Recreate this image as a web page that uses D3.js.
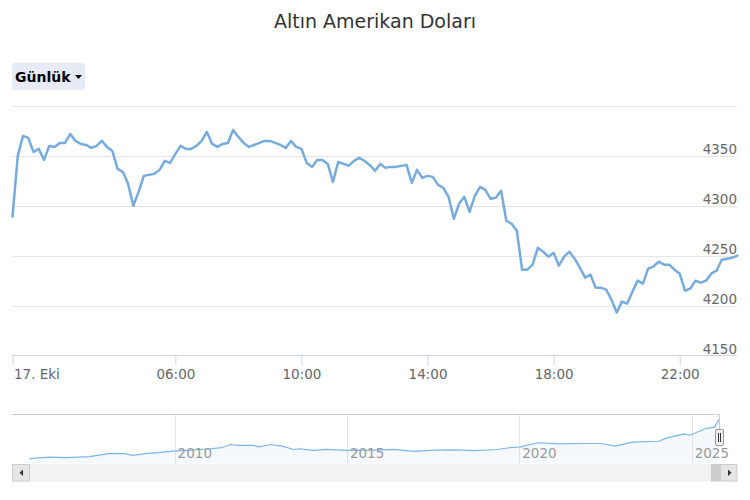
<!DOCTYPE html>
<html>
<head>
<meta charset="utf-8">
<script src="https://cdn.jsdelivr.net/npm/d3@7"></script>
<style>
  html, body { margin: 0; padding: 0; background: #fff; }
  svg { display: block; font-family: "DejaVu Sans", Verdana, sans-serif; }
</style>
</head>
<body>
<svg id="chart" width="750" height="500"></svg>
<script>
// ---------- DATA ----------
const chartTitle = "Altın Amerikan Doları";
const rangeButtonLabel = "Günlük";

// intraday series, 17 Oct 2025, one point every 10 minutes from 00:50
const seriesStart = [2025, 9, 17, 0, 50];
const stepMinutes = 10;
const prices = [
  4289, 4350, 4370, 4368, 4354, 4357, 4346, 4360, 4359, 4363,
  4363, 4372, 4365, 4362, 4361, 4358, 4360, 4365, 4359, 4355,
  4337, 4334, 4322, 4300, 4314, 4330, 4331, 4332, 4336, 4345,
  4343, 4352, 4360, 4357, 4357, 4360, 4365, 4374, 4362, 4359,
  4362, 4363, 4376, 4369, 4363, 4359, 4361, 4363, 4365, 4365,
  4363, 4361, 4358, 4365, 4359, 4357, 4343, 4339, 4346, 4346,
  4342, 4324, 4344, 4342, 4340, 4345, 4348, 4345, 4341, 4335,
  4342, 4338, 4339, 4339, 4340, 4341, 4323, 4336, 4328, 4330,
  4329, 4321, 4318, 4309, 4287, 4302, 4309, 4294, 4310, 4319,
  4316, 4307, 4308, 4315, 4285, 4282, 4275, 4236, 4236, 4241,
  4258, 4254, 4249, 4253, 4240, 4249, 4254, 4247, 4238, 4228,
  4231, 4218, 4218, 4216, 4206, 4193, 4204, 4202, 4214, 4225,
  4222, 4237, 4239, 4244, 4241, 4241, 4236, 4232, 4215, 4217,
  4225, 4223, 4225, 4232, 4235, 4246, 4247, 4248, 4250
];

const yTicks = [4150, 4200, 4250, 4300, 4350, 4400];
const yTickLabels = ["4150", "4200", "4250", "4300", "4350", ""];
const xTickTimes = ["00:50", "06:00", "10:00", "14:00", "18:00", "22:00"];
const xTickLabels = ["17. Eki", "06:00", "10:00", "14:00", "18:00", "22:00"];

// navigator (long-term history)
const navDates = [
  "2005-10-15", "2006-05-15", "2006-11-15", "2007-07-15", "2008-02-15", "2008-07-15",
  "2008-10-15", "2009-03-15", "2009-07-15", "2009-12-15", "2010-05-15", "2011-01-15",
  "2011-05-15", "2011-08-15", "2011-11-15", "2012-04-15", "2012-06-15", "2012-10-15",
  "2013-02-15", "2013-06-15", "2013-08-15", "2014-01-15", "2014-05-15", "2014-12-15",
  "2015-10-15", "2016-05-15", "2016-12-15", "2017-07-15", "2018-02-15", "2018-09-15",
  "2019-05-15", "2019-09-15", "2020-01-15", "2020-07-15", "2021-03-15", "2021-10-15",
  "2022-05-15", "2022-10-15", "2023-04-15", "2024-01-15", "2024-04-15", "2024-10-15",
  "2024-12-15", "2025-05-15", "2025-09-01", "2025-10-05", "2025-10-17"
];
const navPrices = [
  470, 620, 570, 660, 980, 950,
  790, 980, 1050, 1200, 1270, 1430,
  1530, 1840, 1750, 1750, 1620, 1840,
  1680, 1360, 1430, 1270, 1360, 1270,
  1300, 1360, 1170, 1300, 1330, 1240,
  1360, 1530, 1620, 2010, 1910, 1940,
  1940, 1680, 2070, 2160, 2490, 2870,
  2740, 3350, 3550, 4080, 4300
];
const navYearTicks = ["2010", "2015", "2020", "2025"];

// ---------- CHART ----------
const svg = d3.select("#chart");
const parseHM = s => { const [h, m] = s.split(":").map(Number); return new Date(2025, 9, 17, h, m); };
const t0 = new Date(...seriesStart);
const data = prices.map((v, i) => ({ t: new Date(t0.getTime() + i * stepMinutes * 60000), v }));

const plotLeft = 12.5, plotRight = 737.5;
const x = d3.scaleTime().domain([data[0].t, data[data.length - 1].t]).range([plotLeft, plotRight]);
const y = d3.scaleLinear().domain([4150, 4400]).range([355.5, 106]);

// title
svg.append("text").attr("x", 375).attr("y", 28).attr("text-anchor", "middle")
  .attr("fill", "#333").style("font-size", "19px").text(chartTitle);

// range button
const btn = svg.append("g");
btn.append("rect").attr("x", 12).attr("y", 63).attr("width", 73).attr("height", 27)
  .attr("rx", 2).attr("fill", "#e6ebf5");
btn.append("text").attr("x", 15).attr("y", 82).attr("fill", "#000")
  .style("font-size", "14px").style("font-weight", "bold").text(rangeButtonLabel);
btn.append("path").attr("d", "M75,75 L82,75 L78.5,79 Z").attr("fill", "#000");

// grid lines + y labels
const grid = svg.append("g");
yTicks.forEach((t, i) => {
  if (t === 4150) return;
  grid.append("line").attr("x1", 12).attr("x2", 737).attr("y1", Math.round(y(t)) + 0.5).attr("y2", Math.round(y(t)) + 0.5)
    .attr("stroke", "#e6e6e6").attr("stroke-width", 1);
});
yTicks.forEach((t, i) => {
  if (!yTickLabels[i]) return;
  svg.append("text").attr("x", 737).attr("y", y(t) - 2).attr("text-anchor", "end")
    .attr("fill", "#666").style("font-size", "13.5px").text(yTickLabels[i]);
});

// x axis
const xAxis = d3.axisBottom(x)
  .tickValues(xTickTimes.map(parseHM))
  .tickFormat((d, i) => xTickLabels[i])
  .tickSizeInner(10).tickSizeOuter(0).tickPadding(4);
const xg = svg.append("g").attr("transform", "translate(0,355.5)").call(xAxis);
xg.select(".domain").attr("stroke", "#ccd6eb").attr("d", `M12,0H737`);
xg.selectAll(".tick line").attr("stroke", "#ccd6eb");
xg.selectAll(".tick text").attr("fill", "#666").style("font-size", "13.5px").style("font-family", "DejaVu Sans, sans-serif");
xg.selectAll(".tick text").filter((d, i) => i === 0).attr("text-anchor", "start").attr("x", 1);

// line
svg.append("path").datum(data)
  .attr("fill", "none").attr("stroke", "#76acdd").attr("stroke-width", 2.5)
  .attr("stroke-linejoin", "round").attr("stroke-linecap", "round")
  .attr("d", d3.line().x(d => x(d.t)).y(d => y(d.v)));

// ---------- NAVIGATOR ----------
const navTop = 414, navBottom = 463.5;
const nx = d3.scaleTime().domain([new Date(2005, 3, 14), new Date(2026, 3, 26)]).range([12, 737]);
const ny = d3.scaleLinear().domain([0, 4800]).range([navBottom, navTop]);
const navData = navDates.map((d, i) => ({ t: new Date(d + "T00:00:00"), v: navPrices[i] }));

const nav = svg.append("g");
navYearTicks.forEach(yr => {
  const px = Math.round(nx(new Date(+yr, 0, 1))) + 0.5;
  nav.append("line").attr("x1", px).attr("x2", px).attr("y1", navTop).attr("y2", navBottom)
    .attr("stroke", "#e6e6e6");
});
nav.append("path").datum(navData).attr("fill", "rgba(124,181,236,0.08)")
  .attr("d", d3.area().x(d => nx(d.t)).y0(navBottom).y1(d => ny(d.v)));
nav.append("path").datum(navData).attr("fill", "none").attr("stroke", "#7cb5ec").attr("stroke-width", 1.2)
  .attr("d", d3.line().x(d => nx(d.t)).y(d => ny(d.v)));
navYearTicks.forEach(yr => {
  const px = nx(new Date(+yr, 0, 1));
  nav.append("text").attr("x", px + 3).attr("y", 458).attr("fill", "#999")
    .style("font-size", "13.5px").text(yr);
});
// outline
nav.append("path").attr("d", `M12,${navTop + 0.5}H719.5V429`).attr("fill", "none").attr("stroke", "#ccc");
// handle
nav.append("rect").attr("x", 715.5).attr("y", 429.5).attr("width", 8).attr("height", 16).attr("rx", 1.5)
  .attr("fill", "#f2f2f2").attr("stroke", "#999");
nav.append("path").attr("d", "M718.5,433V442M720.5,433V442").attr("stroke", "#333");

// scrollbar
const sb = svg.append("g");
sb.append("rect").attr("x", 12).attr("y", 464).attr("width", 725).attr("height", 17.5).attr("fill", "#f2f2f2");
sb.append("rect").attr("x", 711).attr("y", 464).attr("width", 10).attr("height", 17.5).attr("fill", "#cccccc");
sb.append("rect").attr("x", 12.5).attr("y", 464.5).attr("width", 17).attr("height", 16.5)
  .attr("fill", "#e6e6e6").attr("stroke", "#cccccc");
sb.append("rect").attr("x", 720.5).attr("y", 464.5).attr("width", 16.5).attr("height", 16.5)
  .attr("fill", "#e6e6e6").attr("stroke", "#cccccc");
sb.append("path").attr("d", "M19.5,472.75 L23,469.5 L23,476 Z").attr("fill", "#333");
sb.append("path").attr("d", "M731.5,472.75 L728,469.5 L728,476 Z").attr("fill", "#333");
</script>
</body>
</html>
